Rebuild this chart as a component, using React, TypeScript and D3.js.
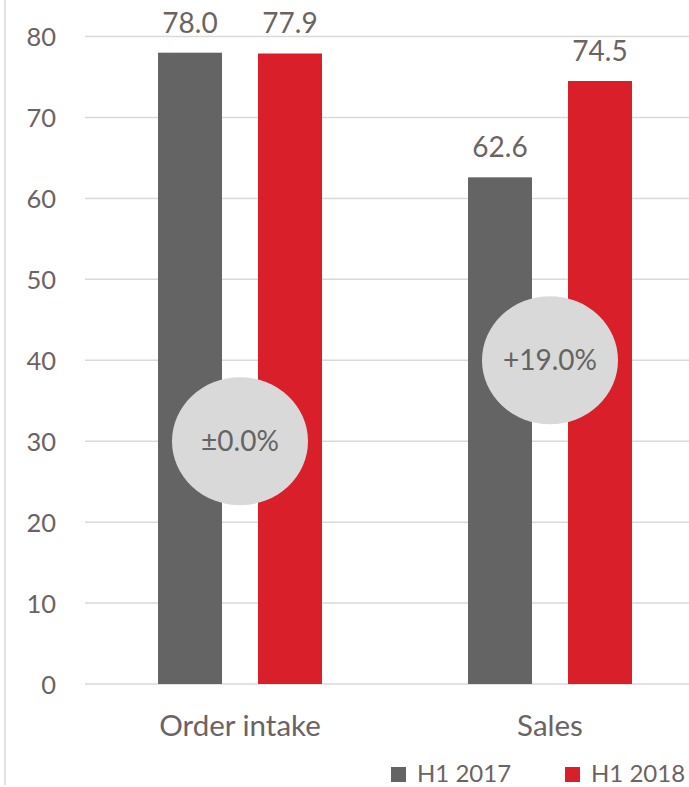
import React from "react";
import * as d3 from "d3";

const categories = ["Order intake", "Sales"];
const seriesNames = ["H1 2017", "H1 2018"];
const h1_2017 = [78.0, 62.6];
const h1_2018 = [77.9, 74.5];
const changeLabels = ["±0.0%", "+19.0%"];
const changeLevels = [30, 40];
const yTicks = [0, 10, 20, 30, 40, 50, 60, 70, 80];

const W = 689;
const H = 787;
const FONT = "Lato, 'Open Sans', sans-serif";
const TEXT = "#6b6363";
const GRID = "#d9d9d9";
const COLORS = ["#646464", "#d81f2a"];

export default function App() {
  const y = d3.scaleLinear().domain([0, 80]).range([684, 36.5]);
  const x0 = d3
    .scaleBand<string>()
    .domain(categories)
    .range([85, 705])
    .paddingInner(146 / 310)
    .paddingOuter(73 / 310);
  const x1 = d3
    .scaleBand<string>()
    .domain(seriesNames)
    .range([0, x0.bandwidth()])
    .paddingInner(0.36)
    .paddingOuter(0);
  const values = [h1_2017, h1_2018];

  return (
    <svg
      width={W}
      height={H}
      style={{ position: "absolute", left: 0, top: 0, background: "#fff" }}
      fontFamily={FONT}
    >
      <line x1={5} x2={5} y1={0} y2={785} stroke={GRID} strokeWidth={1.5} />
      {yTicks.map((t) => (
        <g key={t}>
          <line x1={85} x2={W} y1={y(t)} y2={y(t)} stroke={GRID} strokeWidth={1.5} />
          <text x={56} y={y(t)} dy="0.38em" textAnchor="end" fontSize={25.5} fill={TEXT}>
            {t}
          </text>
        </g>
      ))}
      {categories.map((c, ci) => (
        <g key={c} transform={`translate(${x0(c)},0)`}>
          {seriesNames.map((s, si) => {
            const v = values[si][ci];
            const bx = x1(s)!;
            return (
              <g key={s}>
                <rect
                  x={bx}
                  y={y(v)}
                  width={x1.bandwidth()}
                  height={y(0) - y(v)}
                  fill={COLORS[si]}
                />
                <text
                  x={bx + x1.bandwidth() / 2}
                  y={y(v) - 20}
                  textAnchor="middle"
                  fontSize={28}
                  fill={TEXT}
                >
                  {v.toFixed(1)}
                </text>
              </g>
            );
          })}
          <ellipse
            cx={x0.bandwidth() / 2}
            cy={y(changeLevels[ci])}
            rx={68}
            ry={64}
            fill="#d9d9d9"
          />
          <text
            x={x0.bandwidth() / 2}
            y={y(changeLevels[ci])}
            dy="0.36em"
            textAnchor="middle"
            fontSize={28}
            fill="#646464"
          >
            {changeLabels[ci]}
          </text>
          <text
            x={x0.bandwidth() / 2}
            y={736}
            textAnchor="middle"
            fontSize={29.5}
            fill={TEXT}
          >
            {c}
          </text>
        </g>
      ))}
      {seriesNames.map((s, i) => {
        const lx = [391, 565][i];
        return (
          <g key={s}>
            <rect x={lx} y={767} width={15} height={15} fill={COLORS[i]} />
            <text x={lx + 26} y={782} fontSize={24} fill={TEXT}>
              {s}
            </text>
          </g>
        );
      })}
    </svg>
  );
}
